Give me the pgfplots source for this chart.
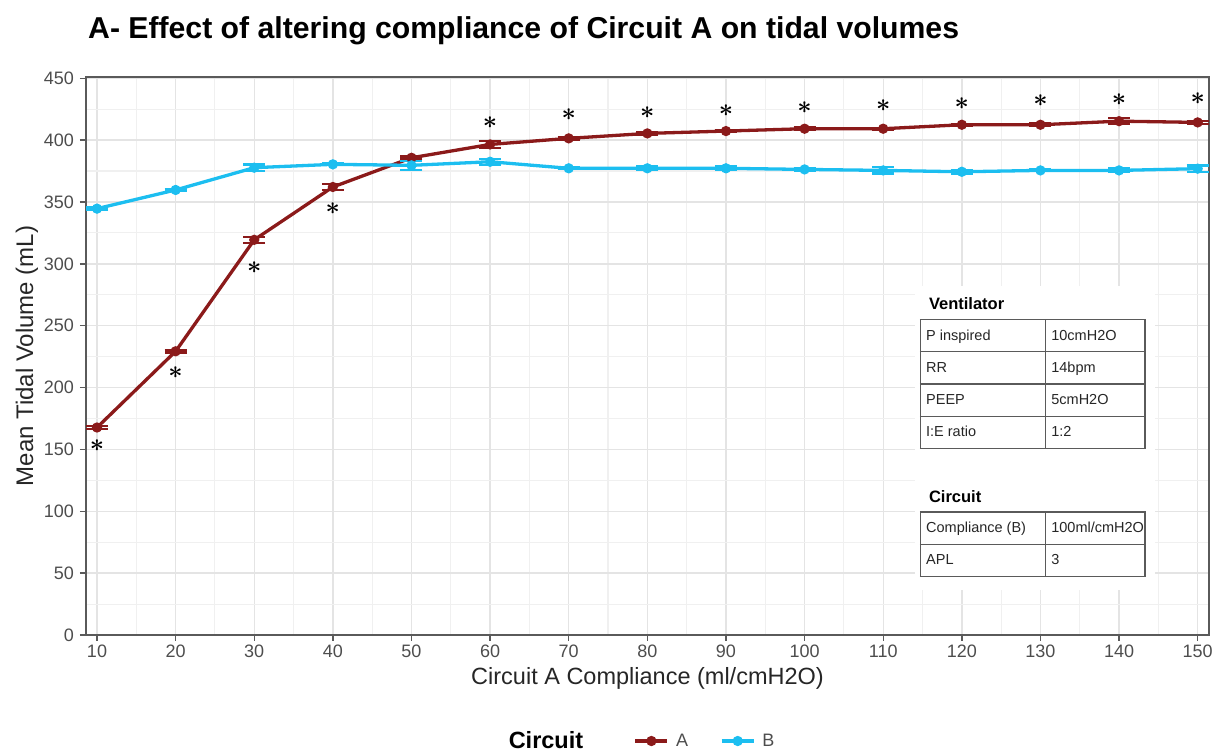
\documentclass[border=0pt]{standalone}
\usepackage{pgfplots}
\pgfplotsset{compat=1.18}
\usepackage{fontspec}
\setmainfont{Liberation Sans}
\usepackage{array}
\usepackage{colortbl}
\definecolor{cA}{RGB}{139,26,26}
\definecolor{cB}{RGB}{28,190,240}
\definecolor{gridmaj}{RGB}{228,228,228}
\definecolor{gridmin}{RGB}{240,240,240}
\definecolor{axgray}{RGB}{90,90,90}
\definecolor{txtgray}{RGB}{77,77,77}
\begin{document}
\begin{tikzpicture}
\begin{axis}[
  at={(0,0)}, anchor=south west,
  scale only axis, width=1123pt, height=558pt,
  xmin=8.6, xmax=151.44, ymin=0, ymax=451,
  xtick={10,20,...,150}, minor xtick={15,25,...,145},
  ytick={0,50,...,450}, minor ytick={25,75,...,425},
  grid=both,
  major grid style={gridmaj, line width=1.4pt},
  minor grid style={gridmin, line width=1.1pt},
  tick align=outside, tick pos=left,
  major tick length=6pt, minor tick length=0pt,
  every tick/.style={axgray, line width=1.4pt},
  axis line style={axgray, line width=1.4pt},
  ticklabel style={font=\fontsize{18}{18}\selectfont, text=txtgray},
  yticklabel style={xshift=-2.5pt},
  /pgf/number format/assume math mode=true,
  xlabel={Circuit A Compliance (ml/cmH2O)},
  ylabel={Mean Tidal Volume (mL)},
  label style={font=\fontsize{23.5}{23.5}\selectfont, text=black!85},
  ylabel style={font=\fontsize{24}{24}\selectfont, at={(axis description cs:-0.0525,0.5)}, anchor=center},
  xlabel style={at={(axis description cs:0.5,-0.077)}, anchor=center},
  legend style={at={(0.4925,-0.19)}, anchor=center, draw=none, fill=none,
    legend columns=3, font=\fontsize{18}{18}\selectfont, text=txtgray,
    /tikz/every odd column/.append style={column sep=5pt},
    /tikz/every even column/.append style={column sep=30pt}},
  legend image code/.code={\draw[mark repeat=2,mark phase=2,#1] plot coordinates {(0pt,0pt) (16pt,0pt) (32pt,0pt)};},
]
\addlegendimage{empty legend}
\addlegendentry{\makebox[93pt][l]{\textcolor{black}{\bfseries\fontsize{23.5}{23.5}\selectfont Circuit}}}

\addplot[cA, line width=3.3pt, mark=*, mark size=3.4pt,
  error bars/.cd, y dir=both, y explicit,
  error bar style={line width=2.2pt, cA},
  error mark options={rotate=90, mark size=11pt, line width=2.2pt, cA}]
coordinates {
(10,167.7) +- (0,1)
(20,229.3) +- (0,1)
(30,319.4) +- (0,2.5)
(40,362.1) +- (0,2.5)
(50,385.7) +- (0,1)
(60,396.5) +- (0,3)
(70,401.4) +- (0,1.2)
(80,405.4) +- (0,0.8)
(90,407.3) +- (0,0.8)
(100,409.2) +- (0,1)
(110,409.2) +- (0,0.8)
(120,412.4) +- (0,0.8)
(130,412.4) +- (0,1.2)
(140,415.3) +- (0,2.5)
(150,414.3) +- (0,1.2)
};
\addlegendentry{A}

\addplot[cB, line width=3.3pt, mark=*, mark size=3.4pt,
  error bars/.cd, y dir=both, y explicit,
  error bar style={line width=2.2pt, cB},
  error mark options={rotate=90, mark size=11pt, line width=2.2pt, cB}]
coordinates {
(10,344.6) +- (0,1)
(20,359.7) +- (0,0.8)
(30,377.7) +- (0,2.5)
(40,380.4) +- (0,0.8)
(50,379.6) +- (0,3.5)
(60,382.5) +- (0,2.5)
(70,377.2) +- (0,0.8)
(80,377.2) +- (0,1.5)
(90,377.2) +- (0,1.5)
(100,376.3) +- (0,0.8)
(110,375.5) +- (0,2.5)
(120,374.4) +- (0,1.5)
(130,375.5) +- (0,0.8)
(140,375.5) +- (0,1.5)
(150,376.9) +- (0,2.5)
};
\addlegendentry{B}

\addplot[forget plot, only marks, mark=text, black,
  text mark={\fontsize{31}{31}\selectfont\boldmath$\ast$}]
coordinates {
(10,153.2) (20,212.1) (30,297) (40,344.9) (60,414) (70,420.7) (80,421.8)
(90,424) (100,426.6) (110,428.2) (120,429.6) (130,432) (140,432.8) (150,433.6)
};

\fill[white] (axis cs:114.0,36.3) rectangle (axis cs:144.6,282.3);
\node[anchor=base west, inner sep=0pt, font=\bfseries\fontsize{16.5}{16.5}\selectfont] at (axis cs:115.8,262.9) {Ventilator};
\node[anchor=north west, inner sep=0pt, font=\fontsize{14.5}{16}\selectfont, text=black!85] at (axis cs:114.65,255.6) {%
\setlength{\arrayrulewidth}{1.2pt}\arrayrulecolor{axgray}\setlength{\tabcolsep}{5pt}%
\begin{tabular}{|p{114pt}|p{88pt}|}\hline
\rule[-11pt]{0pt}{31pt}P inspired & 10cmH2O\\\hline
\rule[-11pt]{0pt}{31pt}RR & 14bpm\\\hline
\rule[-11pt]{0pt}{31pt}PEEP & 5cmH2O\\\hline
\rule[-11pt]{0pt}{31pt}I:E ratio & 1:2\\\hline
\end{tabular}};
\node[anchor=base west, inner sep=0pt, font=\bfseries\fontsize{16.5}{16.5}\selectfont] at (axis cs:115.8,107.3) {Circuit};
\node[anchor=north west, inner sep=0pt, font=\fontsize{14.5}{16}\selectfont, text=black!85] at (axis cs:114.65,100) {%
\setlength{\arrayrulewidth}{1.2pt}\arrayrulecolor{axgray}\setlength{\tabcolsep}{5pt}%
\begin{tabular}{|p{114pt}|p{88pt}|}\hline
\rule[-11pt]{0pt}{31pt}Compliance (B) & 100ml/cmH2O\\\hline
\rule[-11pt]{0pt}{31pt}APL & 3\\\hline
\end{tabular}};
\end{axis}
\node[anchor=base west, inner sep=0pt, font=\bfseries\fontsize{30.2}{30.2}\selectfont] at (2pt,596pt) {A- Effect of altering compliance of Circuit A on tidal volumes};
\pgfresetboundingbox
\path[use as bounding box] (-86pt,-119pt) rectangle (1133pt,635pt);
\end{tikzpicture}
\end{document}
